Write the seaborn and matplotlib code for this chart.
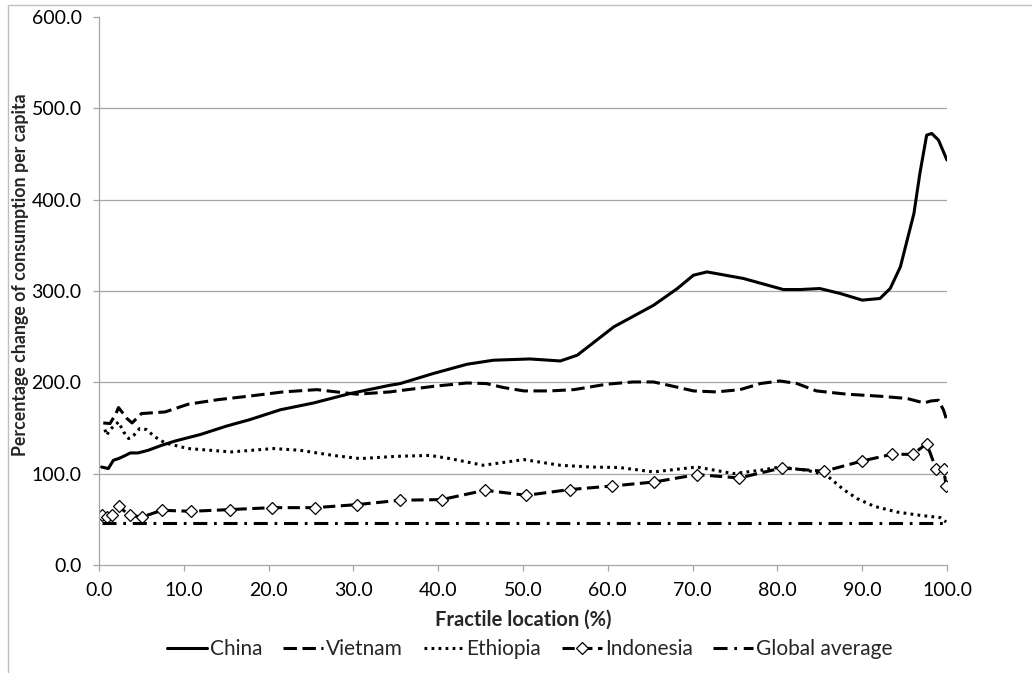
import matplotlib
matplotlib.use("Agg")
import matplotlib.pyplot as plt
import seaborn as sns
from matplotlib.patches import Rectangle

# values
china_x = [0.3, 1.1, 1.7, 2.3, 2.9, 3.7, 4.6, 5.8, 7.4, 9.0, 12.0, 15.0, 17.8, 21.4,
           25.3, 29.6, 34.3, 35.5, 39.4, 43.4, 46.5, 50.8, 54.4, 56.4, 60.7, 65.4,
           68.2, 70.1, 71.7, 76.0, 80.7, 82.7, 85.0, 87.4, 90.0, 92.1, 93.3, 94.5,
           96.1, 96.8, 97.6, 98.2, 99.0, 100.0]
china_y = [107.3, 105.6, 114.7, 116.5, 119.0, 122.7, 122.7, 125.6, 131.1, 135.8, 143.0,
           152.0, 159.2, 170.0, 177.4, 187.7, 196.8, 198.6, 209.6, 219.8, 224.2, 225.6,
           223.4, 229.7, 260.7, 284.4, 302.7, 317.3, 320.9, 313.7, 301.6, 301.6, 302.7,
           297.3, 290.0, 291.8, 302.7, 326.4, 384.9, 428.7, 470.6, 472.5, 465.2, 443.3]

vietnam_x = [0.5, 1.3, 2.0, 2.3, 3.3, 3.9, 5.0, 7.8, 10.5, 14.0, 17.8, 21.7, 25.7, 28.0,
             30.4, 34.3, 39.5, 43.4, 45.7, 47.7, 50.1, 53.2, 56.0, 59.9, 63.0, 65.4,
             67.7, 70.1, 72.8, 75.6, 78.0, 80.3, 82.3, 84.6, 88.2, 92.1, 95.3, 97.3,
             98.1, 99.0, 99.6, 100.0]
vietnam_y = [155.5, 154.9, 165.8, 172.4, 160.4, 155.5, 165.8, 167.6, 176.0, 181.0, 185.0,
             189.5, 192.0, 189.5, 187.0, 189.5, 195.7, 199.3, 198.6, 194.3, 190.6, 190.6,
             192.0, 198.0, 200.4, 200.4, 195.7, 190.6, 189.5, 192.0, 198.7, 201.5, 198.7,
             190.6, 187.0, 184.8, 182.3, 177.4, 179.6, 180.4, 169.4, 157.7]

ethiopia_x = [0.7, 0.9, 1.3, 2.3, 2.9, 3.5, 4.1, 4.8, 5.6, 6.6, 7.8, 10.5, 15.6, 20.6,
              23.7, 27.6, 30.8, 35.1, 39.0, 41.4, 45.3, 50.1, 54.4, 57.9, 61.4, 65.4,
              70.5, 74.8, 78.0, 80.3, 83.5, 85.8, 87.8, 89.4, 91.4, 94.1, 96.8, 99.2, 99.9]
ethiopia_y = [148.3, 142.0, 148.3, 156.6, 145.7, 138.4, 142.0, 149.4, 148.3, 140.2, 133.6,
              127.5, 123.8, 127.5, 125.6, 120.0, 116.5, 119.0, 120.0, 116.5, 109.2, 115.4,
              109.2, 107.3, 106.7, 101.9, 107.3, 100.1, 103.7, 107.3, 103.7, 98.2, 82.6,
              72.7, 64.3, 58.0, 54.4, 51.9, 47.1]

indonesia_x = [0.4, 0.9, 1.5, 2.3, 3.6, 5.1, 7.4, 10.9, 15.5, 20.4, 25.5, 30.4, 35.5,
               40.4, 45.5, 50.4, 55.5, 60.5, 65.5, 70.5, 75.5, 80.5, 85.5, 90.0, 93.5,
               96.0, 97.6, 98.7, 99.6, 99.9]
indonesia_y = [54.4, 52.6, 54.4, 64.3, 54.4, 52.6, 59.9, 58.8, 60.7, 62.8, 62.8, 66.1,
               70.9, 71.6, 81.8, 76.3, 82.6, 86.5, 90.9, 99.0, 95.3, 106.2, 102.6, 113.9,
               121.2, 121.2, 133.0, 105.6, 105.6, 86.2]

global_x = [0.4, 25.0, 50.0, 75.0, 100.0]
global_y = [46.5, 46.5, 46.5, 46.5, 46.5]

series_names = ["China", "Vietnam", "Ethiopia", "Indonesia", "Global average"]

sns.set_theme(style="white")
plt.rcParams["font.family"] = ["Lato", "DejaVu Sans"]

fig = plt.figure(figsize=(10.32, 6.73), dpi=100)
ax = fig.add_axes([99 / 1032, 1 - 565 / 673, 848 / 1032, 548 / 673])

# outer chart frame (only top/left visible in the reference)
fig.patches.append(Rectangle((8 / 1032, -0.1), 1.2, 1 - 5 / 673 + 0.1,
                             transform=fig.transFigure, fill=False,
                             edgecolor="#bfbfbf", linewidth=1.0))

lw = 2.2
sns.lineplot(x=china_x, y=china_y, ax=ax, color="black", linewidth=lw,
             linestyle="-", label=series_names[0])
sns.lineplot(x=vietnam_x, y=vietnam_y, ax=ax, color="black", linewidth=lw,
             linestyle=(0, (4.4, 1.8)), label=series_names[1])
sns.lineplot(x=ethiopia_x, y=ethiopia_y, ax=ax, color="black", linewidth=lw,
             linestyle=(0, (0.9, 1.4)), label=series_names[2])
sns.lineplot(x=indonesia_x, y=indonesia_y, ax=ax, color="black", linewidth=lw,
             linestyle=(0, (4.0, 1.8)), marker="D", markersize=6,
             markerfacecolor="white", markeredgecolor="black", markeredgewidth=0.9,
             label=series_names[3])
sns.lineplot(x=global_x, y=global_y, ax=ax, color="black", linewidth=lw,
             linestyle=(0, (4.6, 2.2, 0.9, 2.2)), label=series_names[4])

ax.set_xlim(0, 100)
ax.set_ylim(0, 600)
ax.set_xticks(range(0, 101, 10))
ax.set_xticklabels([f"{v:.1f}" for v in range(0, 101, 10)])
ax.set_yticks(range(0, 601, 100))
ax.set_yticklabels([f"{v:.1f}" for v in range(0, 601, 100)])

for v in range(100, 501, 100):
    ax.axhline(v, color="#a6a6a6", linewidth=0.9, zorder=0)

for side in ["top", "right"]:
    ax.spines[side].set_visible(False)
for side in ["left", "bottom"]:
    ax.spines[side].set_color("#a6a6a6")
    ax.spines[side].set_linewidth(0.9)

ax.tick_params(axis="both", which="major", direction="out", length=4.5, width=0.9,
               color="#a6a6a6", labelsize=14, labelcolor="black", pad=8,
               bottom=True, left=True)

ax.set_xlabel("Fractile location (%)", fontsize=14.5, fontweight="bold")
ax.xaxis.set_label_coords(0.5, -0.082)
ax.set_ylabel("Percentage change of consumption per capita", fontsize=12.8,
              fontweight="bold")
ax.yaxis.set_label_coords(-0.082, 0.529)

handles, labels = ax.get_legend_handles_labels()
ax.get_legend().remove()
fig.legend(handles, labels, loc="center", bbox_to_anchor=(530 / 1032, 1 - 649 / 673),
           ncol=5, frameon=False, fontsize=15, handlelength=1.9, handletextpad=0.15,
           columnspacing=1.0)

fig.savefig("out.png", dpi=100)
